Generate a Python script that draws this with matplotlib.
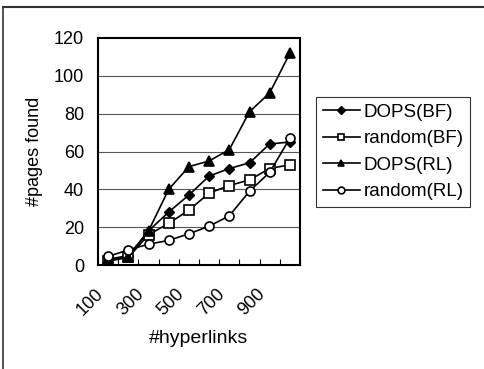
import matplotlib
matplotlib.use("Agg")
import matplotlib.pyplot as plt
import matplotlib.transforms as mtransforms
from matplotlib.lines import Line2D

plt.rcParams['font.family'] = ['Liberation Sans', 'DejaVu Sans']

categories = [100, 200, 300, 400, 500, 600, 700, 800, 900, 1000]
tick_labels = ["100", "300", "500", "700", "900"]
dops_bf = [3, 5, 18, 28, 37, 47, 51, 54, 64, 65]
random_bf = [2, 4, 16, 22, 29, 38, 42, 45, 51, 53]
dops_rl = [3, 4, 18, 40, 52, 55, 61, 81, 91, 112]
random_rl = [4.5, 8, 11, 13, 16.5, 20.5, 26, 39, 49, 67]

fig = plt.figure(figsize=(4.85, 3.69), dpi=100)
W, H = 485, 369
ax = fig.add_axes([98 / W, 1 - 265 / H, (300 - 98) / W, (265 - 38) / H])

x = list(range(len(categories)))
kw = dict(color='black', lw=1.2, ms=6.5, mew=1.2)
ax.plot(x, dops_bf, marker='D', mfc='black', ms=5.5, label='DOPS(BF)', color='black', lw=1.2)
ax.plot(x, random_bf, marker='s', mfc='white', label='random(BF)', **kw)
ax.plot(x, dops_rl, marker='^', mfc='black', label='DOPS(RL)', **kw)
ax.plot(x, random_rl, marker='o', mfc='white', label='random(RL)', **kw)

ax.set_xlim(-0.5, len(categories) - 0.5)
ax.set_ylim(0, 120)
ax.set_yticks(range(0, 121, 20))
for yv in range(20, 120, 20):
    ax.axhline(yv, color='#555555', lw=0.8, zorder=0)

ax.set_xticks([i + 0.5 for i in range(-1, len(categories))], minor=True)
ax.tick_params(axis='x', which='minor', direction='in', length=4, width=0.8)
ax.set_xticks([0, 2, 4, 6, 8])
ax.set_xticklabels(tick_labels, rotation=45, ha='right', va='top', rotation_mode='anchor')
ax.tick_params(axis='x', which='major', length=0, labelsize=13, pad=4)
ax.tick_params(axis='y', length=0, labelsize=13, pad=10)
offset = mtransforms.ScaledTranslation(-13 / 100, -15 / 100, fig.dpi_scale_trans)
for lab in ax.get_xticklabels():
    lab.set_transform(lab.get_transform() + offset)
for s in ax.spines.values():
    s.set_linewidth(1.5)

ax.set_xlabel('#hyperlinks', fontsize=14, va='top')
ax.xaxis.set_label_coords(0.5, (265 - 330) / (265 - 38))
ax.set_ylabel('#pages found', fontsize=13, labelpad=8)

handles, labels = ax.get_legend_handles_labels()
leg = fig.legend(handles, labels, loc='upper left', bbox_to_anchor=(316 / W, 1 - 97 / H),
                 fontsize=13.5, frameon=True, fancybox=False, edgecolor='black',
                 handlelength=2.0, handletextpad=0.2, borderpad=0.35, labelspacing=0.5,
                 borderaxespad=0, markerscale=0.75)
leg.get_frame().set_linewidth(0.8)

# outer chart frame (top and left edges)
fig.add_artist(Line2D([3 / W, 1], [1 - 7 / H, 1 - 7 / H], transform=fig.transFigure, color='#333333', lw=1.5))
fig.add_artist(Line2D([3 / W, 3 / W], [0, 1 - 7 / H], transform=fig.transFigure, color='#333333', lw=1.2))

fig.savefig('out.png', dpi=100)
